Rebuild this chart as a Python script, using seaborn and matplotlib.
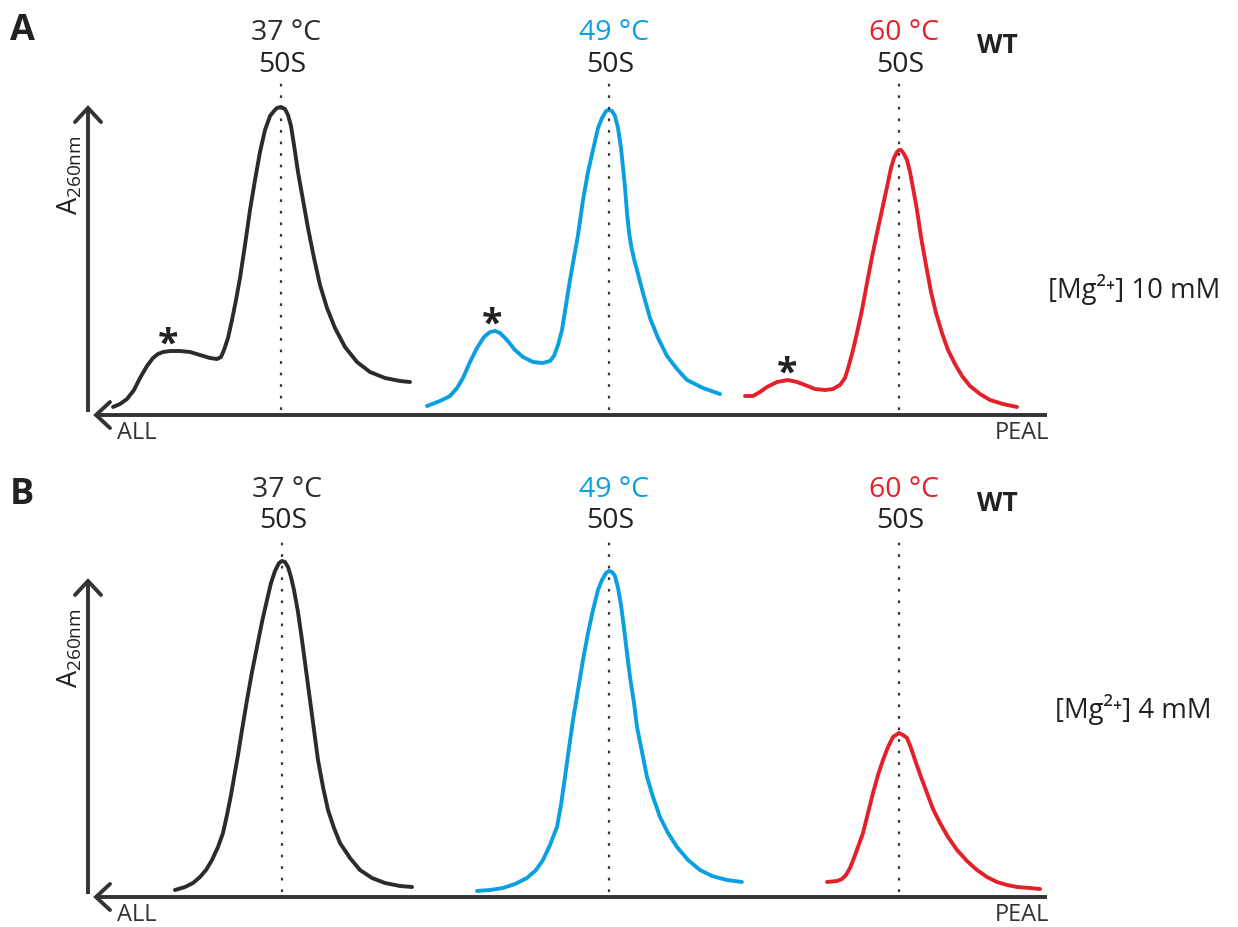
import numpy as np
import pandas as pd
import matplotlib
matplotlib.use("Agg")
import matplotlib.pyplot as plt
import seaborn as sns

# ---------------- data (gradient position, A260 in arbitrary units) ----------------
temps = ["37 °C", "49 °C", "60 °C"]
colors = ["#2b2b2b", "#0a9fe0", "#e4202a"]

# Panel A  ([Mg2+] 10 mM)
a37_x = [113,120,127,134,140,147,153,158,163,170,180,190,200,210,217,221,224,228,232,236,240,245,250,255,260,265,270,274,277,281,285,288,291,294,298,303,308,314,320,327,335,345,357,370,385,400,410]
a37_y = [8,11,16,25,37,49,57,61,63,64,64,63,60,57,56,58,65,77,95,115,137,170,205,235,263,285,299,304,307,308,306,300,289,270,243,215,187,157,130,107,87,68,53,43,37,34,33]
a49_x = [427,440,450,457,463,470,477,484,490,495,500,507,515,523,533,543,550,554,558,562,566,570,573,578,583,588,593,598,602,606,609,612,615,618,621,625,627,629,631,634,637,643,650,658,667,677,687,703,720]
a49_y = [9,14,19,27,37,53,67,78,83,84,82,75,65,58,53,52,54,59,70,85,110,135,152,180,215,243,265,287,297,304,305,304,299,287,267,228,202,183,170,156,145,122,97,77,59,46,35,27,21]
a60_x = [745,753,760,767,777,788,797,805,815,825,833,840,845,849,853,857,862,867,872,877,882,887,891,894,897,899,901,904,907,910,913,917,921,926,931,936,942,948,955,962,970,980,990,1003,1017]
a60_y = [19,19,23,28,33,35,33,30,26,25,26,30,37,50,65,82,105,132,158,182,205,228,247,257,263,265,265,261,255,243,227,205,178,150,123,102,82,65,51,39,29,21,15,11,8]

# Panel B  ([Mg2+] 4 mM)
b37_x = [175,185,193,200,206,212,218,223,227,231,235,238,242,247,252,257,262,267,271,275,279,282,285,288,291,294,298,302,306,310,314,318,323,328,334,340,350,360,372,385,400,412]
b37_y = [7,10,14,20,27,37,50,64,82,102,125,142,167,197,225,250,275,297,314,326,334,336,335,330,320,307,285,257,227,197,167,137,110,87,69,54,39,27,19,14,11,10]
b49_x = [477,490,503,515,527,536,543,550,557,561,565,569,573,578,583,588,593,598,602,606,609,612,615,618,621,624,627,630,634,637,642,647,653,660,668,677,688,700,712,727,742]
b49_y = [6,7,9,13,19,27,37,52,70,92,120,149,177,207,237,264,287,307,317,324,326,325,321,309,292,269,244,220,194,170,145,120,100,80,64,50,37,27,21,17,15]
b60_x = [827,837,842,846,850,854,858,863,868,873,878,883,888,893,899,903,907,911,915,921,927,933,940,948,957,967,977,987,997,1007,1017,1030,1040]
b60_y = [15,16,18,22,29,39,50,64,84,104,122,137,150,160,164,162,159,149,137,120,104,88,74,60,47,36,27,20,15,12,10,9,8]

panel_names = ["A", "B"]
mg_labels = {"A": "[Mg²⁺] 10 mM", "B": "[Mg²⁺] 4 mM"}
peak_label = "50S"
strain = "WT"
x_ends = ["ALL", "PEAL"]
ylabel = r"A$_{\mathregular{260nm}}$"

curves = {
    "A": [(a37_x, a37_y), (a49_x, a49_y), (a60_x, a60_y)],
    "B": [(b37_x, b37_y), (b49_x, b49_y), (b60_x, b60_y)],
}
# shoulder peaks marked with an asterisk (panel A only): x position, height of shoulder
star_x = [168, 492, 787]
star_y = [64, 84, 35]

# ---------------- style ----------------
sns.set_theme(style="white")
plt.rcParams["font.family"] = ["Open Sans", "DejaVu Sans"]
plt.rcParams["mathtext.fontset"] = "custom"
plt.rcParams["mathtext.rm"] = "Open Sans"
plt.rcParams["mathtext.it"] = "Open Sans"
plt.rcParams["mathtext.bf"] = "Open Sans:bold"

AX = "#333333"
W, H = 1238, 927
fig = plt.figure(figsize=(W / 100, H / 100), dpi=100)

# each panel: x in gradient units, y in A260 units; baseline at y=0
layout = {
    "A": dict(rect=[0, 0.5, 1, 0.5], ylim=(-48.5, 415)),
    "B": dict(rect=[0, 0.0, 1, 0.5], ylim=(-30, 433.5)),
}
text_top = {"A": (375, 343, 362), "B": (400, 369, 386)}  # temp baseline, 50S baseline, WT baseline
yaxis_top = {"A": 307, "B": 316}
mg_pos = {"A": (1048, 117), "B": (1055, 179)}
ylab_y = {"A": 240, "B": 249}
dot_top = {"A": 339, "B": 362}

for p in panel_names:
    ax = fig.add_axes(layout[p]["rect"])
    ax.set_xlim(0, W)
    ax.set_ylim(*layout[p]["ylim"])
    ax.axis("off")

    rows = []
    for t, (xs, ys) in zip(temps, curves[p]):
        for xv, yv in zip(xs, ys):
            rows.append((t, xv, yv))
    df = pd.DataFrame(rows, columns=["temp", "pos", "A260"])
    sns.lineplot(data=df, x="pos", y="A260", hue="temp", hue_order=temps,
                 palette=dict(zip(temps, colors)), sort=False, estimator=None,
                 lw=2.8, legend=False, ax=ax, solid_capstyle="round", solid_joinstyle="round")

    # dotted 50S markers at each curve's maximum + labels
    t_base, s_base, wt_base = text_top[p]
    for t, c, (xs, ys) in zip(temps, colors, curves[p]):
        px = xs[int(np.argmax(ys))]
        ax.plot([px, px], [5, dot_top[p]], ls=(0, (1.2, 4)), lw=1.6, color=AX)
        ax.text(px + 5, t_base, t, color=c, fontsize=20.5, ha="center", va="baseline")
        ax.text(px + 1, s_base, peak_label, color="#222222", fontsize=20.5, ha="center", va="baseline")
    ax.text(997, wt_base, strain, color="#222222", fontsize=19, fontweight="bold", ha="center", va="baseline")

    # axes with arrows
    ax.plot([96, 1047], [0, 0], color=AX, lw=2.8, solid_capstyle="butt")
    ax.plot([110, 96, 110], [13, 0, -13], color=AX, lw=2.8, solid_joinstyle="miter")
    ax.plot([88, 88], [3, yaxis_top[p]], color=AX, lw=2.8, solid_capstyle="butt")
    ax.plot([75, 88, 101], [yaxis_top[p] - 14, yaxis_top[p], yaxis_top[p] - 14], color=AX, lw=2.8,
            solid_joinstyle="miter")
    ax.text(117, -24, x_ends[0], color=AX, fontsize=17, ha="left", va="baseline")
    ax.text(1049, -24, x_ends[1], color=AX, fontsize=17, ha="right", va="baseline")
    ax.text(84, ylab_y[p], ylabel, color="#222222", fontsize=19.5, rotation=90, ha="right", va="center")

    # panel letter and Mg label
    ax.text(10, layout[p]["ylim"][1] - 40, p, fontsize=26, fontweight="bold", color="#222222", ha="left", va="baseline")
    ax.text(mg_pos[p][0], mg_pos[p][1], mg_labels[p], fontsize=19.8, color="#222222", ha="left", va="baseline")

    if p == "A":
        for sx, sy in zip(star_x, star_y):
            ax.text(sx, sy - 5, "*", fontsize=27, fontweight="bold", color="#222222", ha="center", va="baseline")

fig.savefig("out.png", dpi=100)
